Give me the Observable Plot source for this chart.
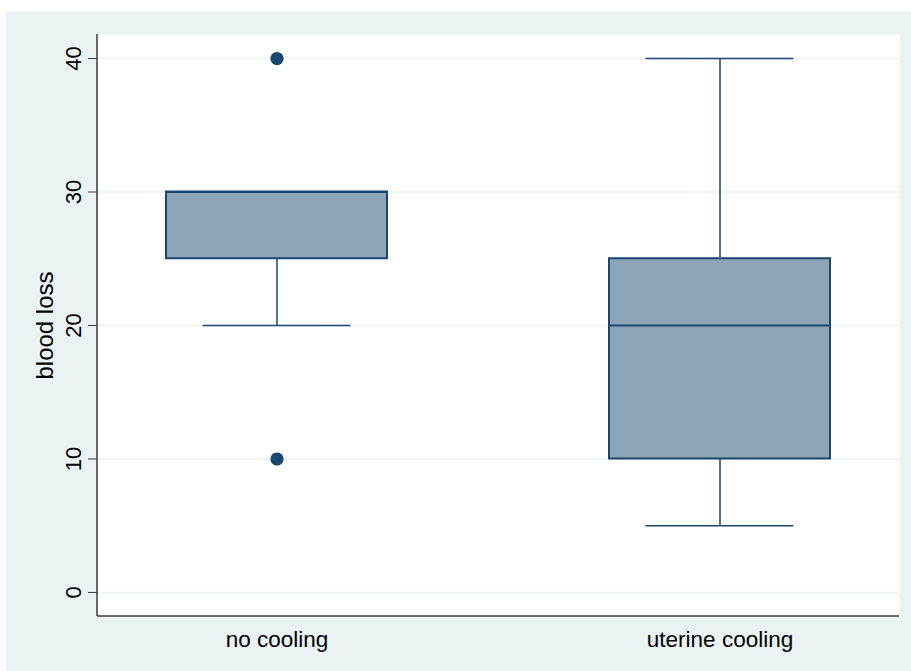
<!DOCTYPE html>
<html>
<head>
<meta charset="utf-8">
<script src="https://cdn.jsdelivr.net/npm/d3@7"></script>
<script src="https://cdn.jsdelivr.net/npm/@observablehq/plot@0.6"></script>
<style>
  html, body { margin: 0; padding: 0; background: #ffffff; }
  #wrap { position: absolute; left: 6px; top: 11px; width: 905px; height: 660px; background: #EAF2F3; }
  svg { display: block; font-family: "Liberation Sans", Arial, Helvetica, sans-serif; }
</style>
</head>
<body>
<div id="wrap"></div>
<script>
const groups = ["no cooling", "uterine cooling"];
const q1 = [25, 10];
const median = [30, 20];
const q3 = [30, 25];
const whiskerLow = [20, 5];
const whiskerHigh = [30, 40];
const outlierGroup = ["no cooling", "no cooling"];
const outlierValue = [40, 10];
const yTicks = [0, 10, 20, 30, 40];
const yLabel = "blood loss";

const boxes = groups.map((g, i) => ({group: g, q1: q1[i], median: median[i], q3: q3[i], lo: whiskerLow[i], hi: whiskerHigh[i]}));
const outliers = outlierGroup.map((g, i) => ({group: g, value: outlierValue[i]}));

const navy = "#1A476F";

function axisLines(...args) {
  const dims = args.find(a => a && typeof a === "object" && "marginLeft" in a && "width" in a);
  const {marginLeft, marginTop, marginRight, marginBottom, width, height} = dims;
  const g = d3.create("svg:g");
  g.append("line")
    .attr("x1", marginLeft).attr("x2", marginLeft)
    .attr("y1", marginTop).attr("y2", height - marginBottom)
    .attr("stroke", "#3a3a3a").attr("stroke-width", 1.5);
  g.append("line")
    .attr("x1", marginLeft).attr("x2", width - marginRight)
    .attr("y1", height - marginBottom).attr("y2", height - marginBottom)
    .attr("stroke", "#3a3a3a").attr("stroke-width", 1.5);
  return g.node();
}

const chart = Plot.plot({
  width: 905,
  height: 660,
  marginLeft: 91,
  marginTop: 23,
  marginRight: 12,
  marginBottom: 55,
  style: {background: "transparent", fontFamily: "'Liberation Sans', Arial, Helvetica, sans-serif"},
  x: {type: "band", domain: groups, paddingInner: 0.502, paddingOuter: 0.155, align: 0.5},
  y: {domain: [-1.8, 41.8]},
  marks: [
    Plot.frame({fill: "white", stroke: null}),
    Plot.gridY(yTicks, {stroke: "#EAF2F3", strokeOpacity: 1, strokeWidth: 1.5}),
    Plot.axisY(yTicks, {tickSize: 9, tickRotate: -90, fontSize: 22, tickPadding: 8, label: null, stroke: "#3a3a3a", color: "#000"}),
    Plot.axisY({tickSize: 0, ticks: [], label: yLabel, labelAnchor: "center", labelArrow: "none", labelOffset: 62, fontSize: 24, color: "#000"}),
    Plot.axisX({tickSize: 0, fontSize: 22.5, tickPadding: 15, label: null, color: "#000"}),
    Plot.ruleX(boxes, {x: "group", y1: "lo", y2: "hi", stroke: navy, strokeWidth: 1.5}),
    Plot.tickY(boxes, {x: "group", y: "lo", stroke: navy, strokeWidth: 1.5, insetLeft: 36.5, insetRight: 36.5}),
    Plot.tickY(boxes, {x: "group", y: "hi", stroke: navy, strokeWidth: 1.5, insetLeft: 36.5, insetRight: 36.5}),
    Plot.barY(boxes, {x: "group", y1: "q1", y2: "q3", fill: "#8EA4B7", stroke: navy, strokeWidth: 2}),
    Plot.tickY(boxes, {x: "group", y: "median", stroke: navy, strokeWidth: 2}),
    Plot.dot(outliers, {x: "group", y: "value", r: 6.6, fill: navy, stroke: null}),
    axisLines
  ]
});
document.getElementById("wrap").appendChild(chart);
</script>
</body>
</html>
